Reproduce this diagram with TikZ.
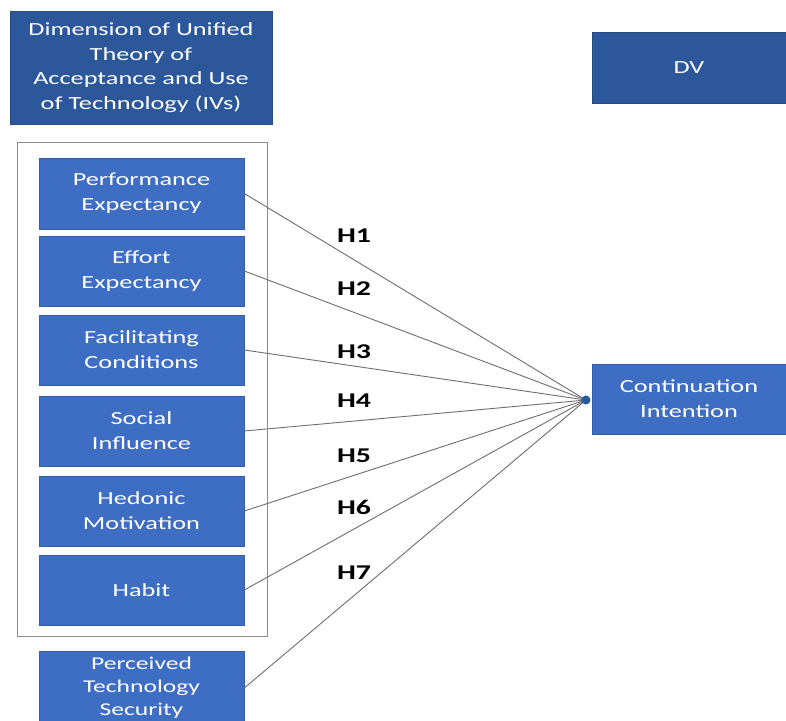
\documentclass[tikz,border=0pt]{standalone}
\usepackage{fontspec}
\setmainfont{Carlito}
\newfontfamily\boxfont[FakeStretch=1.42]{Carlito}
\newfontfamily\hfont[FakeStretch=1.42]{Carlito}
\definecolor{darkblue}{HTML}{2D579B}
\definecolor{midblue}{HTML}{3E6DC4}
\definecolor{linegray}{HTML}{6E6E6E}
\definecolor{framegray}{HTML}{8C8C8C}
\tikzset{
  x=1pt, y=-1pt,
  darkbox/.style={fill=darkblue, draw=darkblue!85!black, line width=0.6pt, text=white, align=center, inner sep=0pt,
    font=\boxfont\fontsize{18.5}{24.5}\selectfont},
  ivbox/.style={fill=midblue, draw=midblue!85!black, line width=0.6pt, text=white, align=center, inner sep=0pt,
    minimum width=205pt, font=\boxfont\fontsize{18.5}{25}\selectfont},
  link/.style={draw=linegray, line width=0.9pt},
  hyp/.style={font=\hfont\bfseries\fontsize{21}{21}\selectfont, text=black, inner sep=0pt}
}
\begin{document}
\begin{tikzpicture}
\useasboundingbox[fill=white] (0,0) rectangle (786,720);
% title and DV
\node[darkbox, minimum width=262pt, minimum height=113pt] (title) at (141,67.5)
  {Dimension of Unified\\Theory of\\Acceptance and Use\\of Technology (IVs)};
\node[darkbox, minimum width=194pt, minimum height=71pt] (dv) at (689,67.5) {DV};
% frame
\node[draw=framegray, line width=0.8pt, minimum width=250pt, minimum height=494pt, inner sep=0pt] (frame) at (142,389) {};
% IV boxes
\node[ivbox, minimum height=71pt] (pe) at (141.5,193.5) {Performance\\Expectancy};
\node[ivbox, minimum height=70pt] (ee) at (141.5,271) {Effort\\Expectancy};
\node[ivbox, minimum height=70pt] (fc) at (141.5,350) {Facilitating\\Conditions};
\node[ivbox, minimum height=70pt] (si) at (141.5,431) {Social\\Influence};
\node[ivbox, minimum height=70pt] (hm) at (141.5,511) {Hedonic\\Motivation};
\node[ivbox, minimum height=70pt] (ha) at (141.5,590) {Habit};
\node[ivbox, minimum height=74pt, font=\boxfont\fontsize{18}{23}\selectfont] (pts) at (141.5,688) {Perceived\\Technology\\Security};
% DV box
\node[ivbox, minimum width=194pt, minimum height=70pt] (ci) at (689,399) {Continuation\\Intention};
% convergence point
\coordinate (conv) at (586,400);
\foreach \n in {pe,ee,fc,si,hm,ha,pts}{
  \draw[link] (\n.east) -- (conv);
}
\fill[darkblue] (conv) circle (4.5pt);
% hypothesis labels
\node[hyp] (h1) at (354,236) {H1};
\node[hyp] (h2) at (354,289) {H2};
\node[hyp] (h3) at (354,352) {H3};
\node[hyp] (h4) at (354,401) {H4};
\node[hyp] (h5) at (354,456) {H5};
\node[hyp] (h6) at (354,507) {H6};
\node[hyp] (h7) at (354,573) {H7};
\end{tikzpicture}
\end{document}
